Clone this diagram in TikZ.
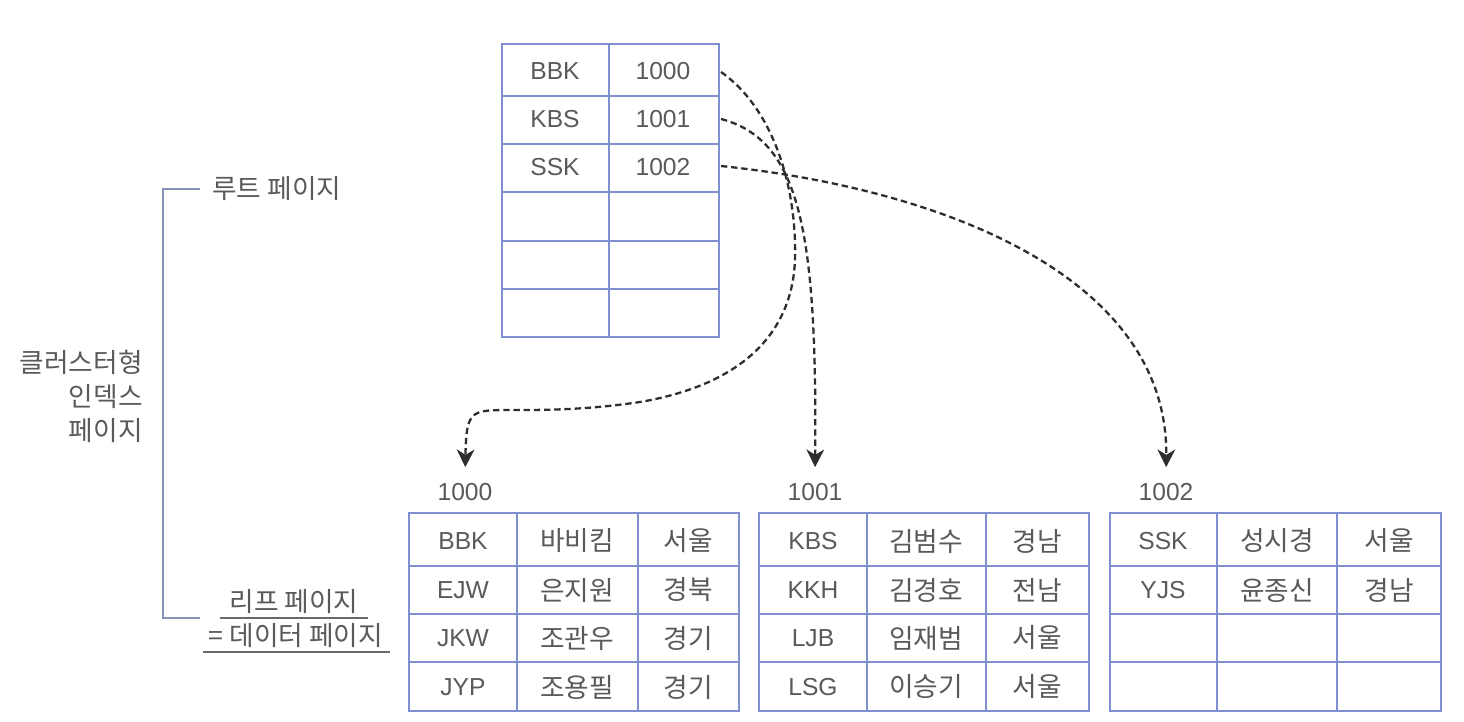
\documentclass[tikz,border=0pt]{standalone}
\usepackage{fontspec}
\setmainfont{Liberation Sans}
\newfontfamily\kr{Noto Sans CJK KR}
\usetikzlibrary{arrows.meta}
\definecolor{tbl}{HTML}{7F8FD0}
\definecolor{brk}{HTML}{8393BA}
\definecolor{txt}{HTML}{5A5A5A}
\definecolor{arr}{HTML}{2E2E2E}
\definecolor{uline}{HTML}{6A6A6A}
\newcommand\leafgrid[4]{%
  \draw[inner] (#2,513) -- (#2,711);
  \draw[inner] (#3,513) -- (#3,711);
  \foreach \yy in {566,614,662} \draw[inner] (#1,\yy) -- (#4,\yy);
  \draw[outer] (#1,513) rectangle (#4,711);
}
\begin{document}
\begin{tikzpicture}[x=0.02cm,y=-0.02cm,
 lat/.style={font=\fontsize{14}{16}\selectfont, text=txt, inner sep=0pt},
 kor/.style={font=\kr\fontsize{15.2}{17}\selectfont, text=txt, inner sep=0pt},
 outer/.style={draw=tbl, line width=1.4pt},
 inner/.style={draw=tbl, line width=0.8pt},
 ptr/.style={draw=arr, line width=1.3pt, dash pattern=on 3.6pt off 2.2pt, -{Stealth[length=10pt,width=10pt,inset=3pt]}, shorten >=9pt},
]
\fill[white] (0,0) rectangle (1464,722);

% root page
\draw[inner] (609,44) -- (609,337);
\foreach \y in {96,144,192,241,289} \draw[inner] (502,\y) -- (719,\y);
\draw[outer] (502,44) rectangle (719,337);
\node[lat] (r1k) at (555,71) {BBK};
\node[lat] (r1v) at (663,71) {1000};
\node[lat] (r2k) at (555,119) {KBS};
\node[lat] (r2v) at (663,119) {1001};
\node[lat] (r3k) at (555,167) {SSK};
\node[lat] (r3v) at (663,167) {1002};
\coordinate (s1) at (721,72);
\coordinate (s2) at (721,119);
\coordinate (s3) at (721,166);

% leaf pages
\leafgrid{409}{517}{638}{739}
\leafgrid{759}{867}{986}{1089}
\leafgrid{1110}{1217}{1337}{1441}

\node[lat] (p1) at (465,492) {1000};
\node[lat] (p2) at (815,492) {1001};
\node[lat] (p3) at (1166,492) {1002};

% table 1000
\node[lat] (a1) at (463,541) {BBK};  \node[kor] (a2) at (577,541) {바비킴}; \node[kor] (a3) at (688,541) {서울};
\node[lat] (b1) at (463,590) {EJW};  \node[kor] (b2) at (577,590) {은지원}; \node[kor] (b3) at (688,590) {경북};
\node[lat] (c1) at (463,638) {JKW};  \node[kor] (c2) at (577,638) {조관우}; \node[kor] (c3) at (688,638) {경기};
\node[lat] (d1) at (463,687) {JYP};  \node[kor] (d2) at (577,687) {조용필}; \node[kor] (d3) at (688,687) {경기};
% table 1001
\node[lat] (e1) at (813,541) {KBS};  \node[kor] (e2) at (926,541) {김범수}; \node[kor] (e3) at (1037,541) {경남};
\node[lat] (f1) at (813,590) {KKH};  \node[kor] (f2) at (926,590) {김경호}; \node[kor] (f3) at (1037,590) {전남};
\node[lat] (g1) at (813,638) {LJB};  \node[kor] (g2) at (926,638) {임재범}; \node[kor] (g3) at (1037,638) {서울};
\node[lat] (h1) at (813,687) {LSG};  \node[kor] (h2) at (926,687) {이승기}; \node[kor] (h3) at (1037,687) {서울};
% table 1002
\node[lat] (i1) at (1163,541) {SSK};  \node[kor] (i2) at (1277,541) {성시경}; \node[kor] (i3) at (1389,541) {서울};
\node[lat] (j1) at (1163,590) {YJS};  \node[kor] (j2) at (1277,590) {윤종신}; \node[kor] (j3) at (1389,590) {경남};

% pointers
\draw[ptr] (s1) .. controls (775,110) and (797,190) .. (795,260)
  .. controls (792,335) and (740,385) .. (640,402)
  .. controls (560,414) and (505,408) .. (485,411)
  .. controls (468,413) and (466,425) .. (p1.north);
\draw[ptr] (s2) .. controls (800,140) and (817,230) .. (p2.north);
\draw[ptr] (s3) .. controls (950,190) and (1168,280) .. (p3.north);

% left labels
\node[kor, anchor=west] (root) at (212,189) {루트 페이지};
\draw[brk, line width=1.2pt] (200,189) -- (163,189) -- (163,618) -- (200,618);
\node[kor, align=right, anchor=east, font=\kr\fontsize{15.2}{19.3}\selectfont] (clu) at (143,396) {클러스터형\\인덱스\\페이지};
\node[kor] (leaf) at (294,602) {리프 페이지};
\node[kor] (data) at (296,636) {= 데이터 페이지};
\draw[uline, line width=1pt] (220,618) -- (368,618);
\draw[uline, line width=1pt] (203,652) -- (390,652);
\end{tikzpicture}
\end{document}
